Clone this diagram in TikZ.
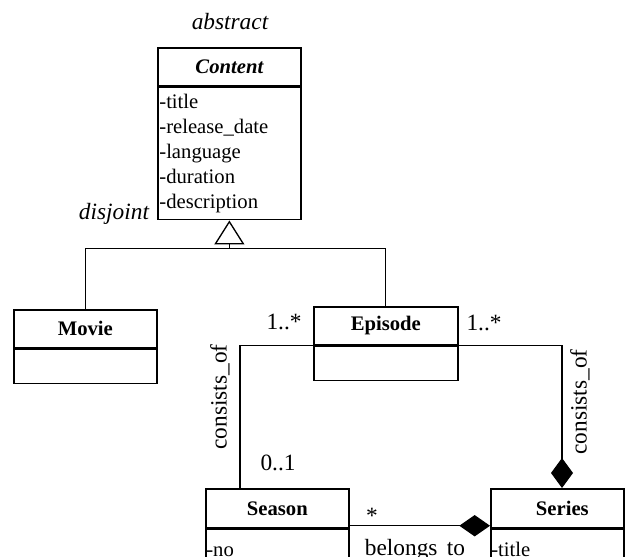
\documentclass[tikz,border=0pt]{standalone}
\usepackage{fontspec}
\setmainfont{Liberation Serif}
\usetikzlibrary{arrows.meta,calc}
\begin{document}
\begin{tikzpicture}[x=0.75pt,y=-0.75pt,
  hdr/.style={draw,line width=1.3pt,rectangle,inner sep=0pt,anchor=north west,
    minimum height=28.5pt,font=\fontsize{15.5}{19}\selectfont\bfseries},
  bdy/.style={draw,line width=1.3pt,rectangle,inner sep=0pt,anchor=north west,
    font=\fontsize{15.5}{18.75}\selectfont},
  attr/.style={inner sep=0pt,font=\fontsize{15.5}{18.75}\selectfont},
  lbl/.style={inner sep=0pt,font=\fontsize{17.5}{20}\selectfont},
  conn/.style={line width=0.8pt}]
\useasboundingbox (0,0) rectangle (625,557);
\clip (0,0) rectangle (625,557);
% Content
\node[hdr,minimum width=107.25pt] (coH) at (157,47) {\itshape Content};
\node[bdy,minimum width=107.25pt,minimum height=99pt,text width=105pt,inner xsep=1pt,align=left] (coB) at (coH.south west)
  {-title\\-release\_date\\-language\\-duration\\-description};
% Movie
\node[hdr,minimum width=107.25pt] (moH) at (13,309) {Movie};
\node[bdy,minimum width=107.25pt,minimum height=25.5pt] (moB) at (moH.south west) {};
% Episode
\node[hdr,minimum width=108pt] (epH) at (313,306) {Episode};
\node[bdy,minimum width=108pt,minimum height=25.5pt] (epB) at (epH.south west) {};
% Season
\node[hdr,minimum width=107.25pt,minimum height=29.25pt] (seH) at (205,488) {Season};
\node[bdy,minimum width=107.25pt,minimum height=50pt] (seB) at (seH.south west) {};
\node[attr,anchor=base west] (seA) at ([xshift=0.8pt]seB.north west |- 0,556) {-no};
% Series
\node[hdr,minimum width=99.75pt,minimum height=29.25pt] (srH) at (490,488) {\hspace{7.5pt}Series};
\node[bdy,minimum width=99.75pt,minimum height=50pt] (srB) at (srH.south west) {};
\node[attr,anchor=base west] (srA) at ([xshift=0.8pt]srB.north west |- 0,556) {-title};
% generalization
\coordinate (gen) at ($(coB.south)+(0,28)$);
\draw[conn,-{Triangle[open,length=18pt,width=22.5pt,line width=1pt]}] (gen) -- (coB.south);
\draw[conn] (moH.north) |- (gen) -| (epH.north);
% Episode - Season
\coordinate (a1) at (240,343);
\draw[conn] (epH.south west) -- (epH.south west -| a1) -- (a1 |- seH.north);
% Episode - Series
\coordinate (srTop) at ($(srH.north west)+(72,0)$);
\draw[conn,-{Diamond[length=22.5pt,width=16.5pt]}] (epH.south east) -| (srTop);
% Season - Series
\draw[conn,-{Diamond[length=23pt,width=16pt]}] ([yshift=2.25pt]seH.south east) -- ([yshift=2.25pt]srH.south west);
% labels
\node[lbl,font=\fontsize{17.5}{20}\selectfont\itshape] (tAbs) at (230,22) {abstract};
\node[lbl,font=\fontsize{17.5}{20}\selectfont\itshape] (tDis) at (114,214) {disjoint};
\node[lbl] (m1) at (284,322) {1..*};
\node[lbl] (m2) at (484,323) {1..*};
\node[lbl] (m3) at (278,463) {0..1};
\node[lbl] (m4) at (372,516) {*};
\node[lbl,rotate=90] (cL) at (220,397) {consists\_of};
\node[lbl,rotate=90] (cR) at (580,402) {consists\_of};
\node[lbl,anchor=base] (bel) at (415,555) {belongs\hspace{0.15em} to};
\end{tikzpicture}
\end{document}
